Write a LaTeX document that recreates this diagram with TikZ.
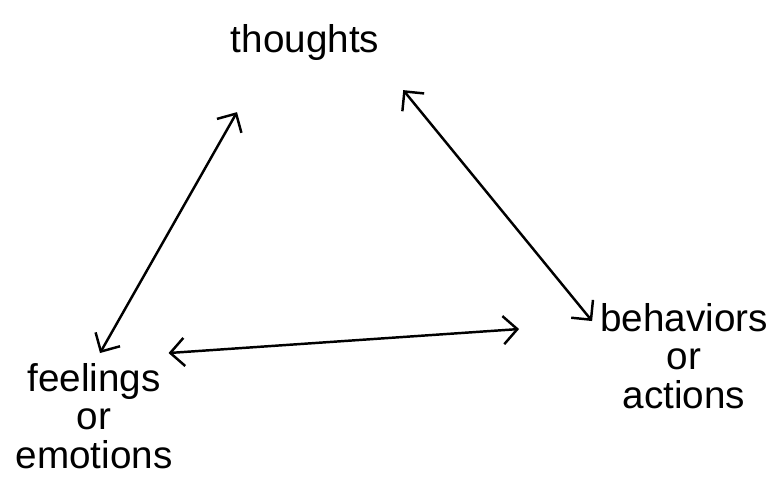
\documentclass[tikz,border=0pt]{standalone}
\usepackage{fontspec}
\setmainfont{Liberation Sans}
\usetikzlibrary{positioning,arrows.meta}

\begin{document}
\begin{tikzpicture}[x=0.02cm, y=-0.02cm,
    word/.style={align=center, inner sep=1pt, font=\fontsize{22}{22}\selectfont},
    twoway/.style={line width=1.4pt, line cap=round,
      {Straight Barb[length=8pt,width=16pt]}-{Straight Barb[length=8pt,width=16pt]}}]
    \useasboundingbox (0,0) rectangle (774,479);

    % the three corners
    \node[word] (thoughts) at (305,43) {thoughts};
    \node[word] (feelings) at (94,416) {feelings\\or\\emotions};
    \node[word] (behaviors) at (684,356) {behaviors\\or\\actions};

    % two-way links between them
    \draw[twoway] ([shift={(-68,49)}]thoughts.south) -- ([shift={(6,-8)}]feelings.north);
    \draw[twoway] ([shift={(22,27)}]thoughts.south east) -- ([shift={(-6,20)}]behaviors.north west);
    \draw[twoway] ([shift={(-6,-8)}]feelings.north east) -- ([shift={(-79,28)}]behaviors.north west);
\end{tikzpicture}
\end{document}
